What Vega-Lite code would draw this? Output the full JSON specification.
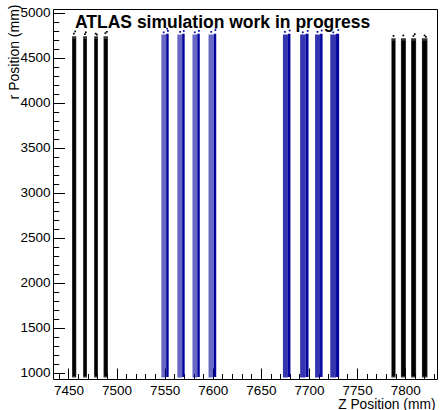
{
  "$schema": "https://vega.github.io/schema/vega-lite/v6.json",
  "width": 384,
  "height": 370,
  "autosize": {"type": "none"},
  "padding": {"left": 53, "top": 9, "right": 4, "bottom": 31},
  "background": "white",
  "config": {
    "view": {"stroke": "#000000", "strokeWidth": 1},
    "font": "Liberation Sans",
    "axis": {
      "grid": false,
      "domain": false,
      "tickColor": "#000000",
      "tickWidth": 1,
      "labelFont": "Liberation Sans",
      "labelFontSize": 13.5,
      "labelColor": "#000000",
      "labelFlush": false,
      "labelOverlap": false,
      "titleFont": "Liberation Sans",
      "titleFontWeight": "normal",
      "titleColor": "#000000"
    }
  },
  "title": {
    "text": "ATLAS simulation work in progress",
    "anchor": "start",
    "frame": "group",
    "orient": "top",
    "offset": -41,
    "dx": 22,
    "baseline": "alphabetic",
    "font": "Liberation Sans",
    "fontSize": 17.5,
    "fontWeight": "bold",
    "color": "#000000"
  },
  "datasets": {
    "bands": [
      {"band": "L1", "grp": "black", "part": "halo", "z0": 7453.8, "z1": 7458.2, "r0": 950, "r1": 4740},
      {"band": "L1", "grp": "black", "part": "core", "z0": 7454.5, "z1": 7457.5, "r0": 965, "r1": 4710},
      {"band": "L2", "grp": "black", "part": "halo", "z0": 7465.3, "z1": 7469.3, "r0": 950, "r1": 4740},
      {"band": "L2", "grp": "black", "part": "core", "z0": 7466.0, "z1": 7468.6, "r0": 965, "r1": 4710},
      {"band": "L3", "grp": "black", "part": "halo", "z0": 7476.7, "z1": 7480.7, "r0": 950, "r1": 4740},
      {"band": "L3", "grp": "black", "part": "core", "z0": 7477.4, "z1": 7480.0, "r0": 965, "r1": 4710},
      {"band": "L4", "grp": "black", "part": "halo", "z0": 7486.5, "z1": 7491.1, "r0": 950, "r1": 4740},
      {"band": "L4", "grp": "black", "part": "core", "z0": 7487.2, "z1": 7490.4, "r0": 965, "r1": 4710},
      {"band": "B1", "grp": "blue", "part": "sparse", "z0": 7546.6, "z1": 7551.6, "r0": 950, "r1": 4760},
      {"band": "B1", "grp": "blue", "part": "core", "z0": 7551.6, "z1": 7554.2, "r0": 955, "r1": 4770},
      {"band": "B2", "grp": "blue", "part": "sparse", "z0": 7563.2, "z1": 7568.2, "r0": 950, "r1": 4760},
      {"band": "B2", "grp": "blue", "part": "core", "z0": 7568.2, "z1": 7570.8, "r0": 955, "r1": 4770},
      {"band": "B3", "grp": "blue", "part": "sparse", "z0": 7578.9, "z1": 7583.9, "r0": 950, "r1": 4760},
      {"band": "B3", "grp": "blue", "part": "core", "z0": 7583.9, "z1": 7586.5, "r0": 955, "r1": 4770},
      {"band": "B4", "grp": "blue", "part": "sparse", "z0": 7595.6, "z1": 7601.0, "r0": 950, "r1": 4760},
      {"band": "B4", "grp": "blue", "part": "core", "z0": 7601.0, "z1": 7603.6, "r0": 955, "r1": 4770},
      {"band": "C1", "grp": "blue", "part": "halo", "z0": 7672.9, "z1": 7678.1, "r0": 950, "r1": 4760},
      {"band": "C1", "grp": "blue", "part": "core", "z0": 7678.1, "z1": 7680.7, "r0": 955, "r1": 4770},
      {"band": "C2", "grp": "blue", "part": "halo", "z0": 7690.8, "z1": 7696.4, "r0": 950, "r1": 4760},
      {"band": "C2", "grp": "blue", "part": "core", "z0": 7696.4, "z1": 7699.5, "r0": 955, "r1": 4770},
      {"band": "C3", "grp": "blue", "part": "halo", "z0": 7706.3, "z1": 7711.5, "r0": 950, "r1": 4760},
      {"band": "C3", "grp": "blue", "part": "core", "z0": 7711.5, "z1": 7714.1, "r0": 955, "r1": 4770},
      {"band": "C4", "grp": "blue", "part": "halo", "z0": 7722.1, "z1": 7728.1, "r0": 950, "r1": 4760},
      {"band": "C4", "grp": "blue", "part": "core", "z0": 7728.1, "z1": 7731.3, "r0": 955, "r1": 4770},
      {"band": "R1", "grp": "black", "part": "halo", "z0": 7785.6, "z1": 7790.0, "r0": 950, "r1": 4720},
      {"band": "R1", "grp": "black", "part": "core", "z0": 7786.3, "z1": 7789.3, "r0": 965, "r1": 4690},
      {"band": "R2", "grp": "black", "part": "halo", "z0": 7795.5, "z1": 7800.7, "r0": 950, "r1": 4720},
      {"band": "R2", "grp": "black", "part": "core", "z0": 7796.2, "z1": 7800.0, "r0": 965, "r1": 4690},
      {"band": "R3", "grp": "black", "part": "halo", "z0": 7806.1, "z1": 7811.3, "r0": 950, "r1": 4720},
      {"band": "R3", "grp": "black", "part": "core", "z0": 7806.8, "z1": 7810.6, "r0": 965, "r1": 4690},
      {"band": "R4", "grp": "black", "part": "halo", "z0": 7817.3, "z1": 7823.1, "r0": 950, "r1": 4720},
      {"band": "R4", "grp": "black", "part": "core", "z0": 7818.0, "z1": 7822.4, "r0": 965, "r1": 4690}
    ],
    "dots": [
      {"grp": "black", "z": 7455.6, "r": 4770},
      {"grp": "black", "z": 7457.1, "r": 4795},
      {"grp": "black", "z": 7467.2, "r": 4765},
      {"grp": "black", "z": 7468.1, "r": 4785},
      {"grp": "black", "z": 7478.3, "r": 4770},
      {"grp": "black", "z": 7479.6, "r": 4760},
      {"grp": "black", "z": 7488.4, "r": 4775},
      {"grp": "black", "z": 7489.9, "r": 4790},
      {"grp": "blue", "z": 7553.4, "r": 4800},
      {"grp": "blue", "z": 7552.6, "r": 4825},
      {"grp": "blue", "z": 7549.0, "r": 4785},
      {"grp": "blue", "z": 7569.9, "r": 4800},
      {"grp": "blue", "z": 7566.1, "r": 4790},
      {"grp": "blue", "z": 7585.6, "r": 4800},
      {"grp": "blue", "z": 7581.3, "r": 4785},
      {"grp": "blue", "z": 7602.7, "r": 4810},
      {"grp": "blue", "z": 7603.2, "r": 4835},
      {"grp": "blue", "z": 7598.4, "r": 4790},
      {"grp": "blue", "z": 7679.9, "r": 4805},
      {"grp": "blue", "z": 7675.0, "r": 4790},
      {"grp": "blue", "z": 7698.6, "r": 4800},
      {"grp": "blue", "z": 7693.5, "r": 4785},
      {"grp": "blue", "z": 7713.2, "r": 4805},
      {"grp": "blue", "z": 7708.8, "r": 4790},
      {"grp": "blue", "z": 7730.4, "r": 4810},
      {"grp": "blue", "z": 7725.2, "r": 4785},
      {"grp": "black", "z": 7787.8, "r": 4745},
      {"grp": "black", "z": 7798.0, "r": 4750},
      {"grp": "black", "z": 7808.6, "r": 4745},
      {"grp": "black", "z": 7809.9, "r": 4765},
      {"grp": "black", "z": 7820.1, "r": 4750},
      {"grp": "black", "z": 7821.5, "r": 4735}
    ]
  },
  "resolve": {"axis": {"x": "independent", "y": "independent"}},
  "layer": [
    {
      "data": {"name": "bands"},
      "mark": {"type": "rect", "strokeWidth": 0},
      "encoding": {
        "x": {
          "field": "z0",
          "type": "quantitative",
          "scale": {"domain": [7434, 7833], "nice": false, "zero": false},
          "axis": {
            "orient": "bottom",
            "title": "Z Position (mm)",
            "values": [7450, 7500, 7550, 7600, 7650, 7700, 7750, 7800],
            "format": "d",
            "tickSize": -11,
            "labelPadding": 15.5,
            "titleFontSize": 13.8,
            "titleAnchor": "end",
            "titleAlign": "right",
            "titleBaseline": "alphabetic",
            "titleX": 382,
            "titleY": 29
          }
        },
        "x2": {"field": "z1"},
        "y": {
          "field": "r0",
          "type": "quantitative",
          "scale": {"domain": [933, 5044], "nice": false, "zero": false},
          "axis": {
            "orient": "left",
            "title": "r Position (mm)",
            "values": [1000, 1500, 2000, 2500, 3000, 3500, 4000, 4500, 5000],
            "format": "d",
            "tickSize": -11.5,
            "labelPadding": 14.5,
            "titleFontSize": 14,
            "titleAnchor": "end",
            "titleAngle": -90,
            "titleAlign": "right",
            "titleBaseline": "alphabetic",
            "titleX": -35,
            "titleY": -5
          }
        },
        "y2": {"field": "r1"},
        "color": {
          "field": "grp",
          "type": "nominal",
          "scale": {"domain": ["black", "blue"], "range": ["#000000", "#02029c"]},
          "legend": null
        },
        "opacity": {
          "field": "part",
          "type": "nominal",
          "scale": {"domain": ["core", "halo", "sparse"], "range": [1, 0.6, 0.45]},
          "legend": null
        }
      }
    },
    {
      "data": {"name": "dots"},
      "mark": {"type": "square", "size": 3, "opacity": 1, "strokeWidth": 0},
      "encoding": {
        "x": {
          "field": "z",
          "type": "quantitative",
          "axis": {
            "orient": "bottom",
            "title": null,
            "values": [7440, 7460, 7470, 7480, 7490, 7510, 7520, 7530, 7540, 7560, 7570, 7580, 7590, 7610, 7620, 7630, 7640, 7660, 7670, 7680, 7690, 7710, 7720, 7730, 7740, 7760, 7770, 7780, 7790, 7810, 7820, 7830],
            "labels": false,
            "tickSize": -5.5
          }
        },
        "y": {
          "field": "r",
          "type": "quantitative",
          "axis": {
            "orient": "left",
            "title": null,
            "values": [1100, 1200, 1300, 1400, 1600, 1700, 1800, 1900, 2100, 2200, 2300, 2400, 2600, 2700, 2800, 2900, 3100, 3200, 3300, 3400, 3600, 3700, 3800, 3900, 4100, 4200, 4300, 4400, 4600, 4700, 4800, 4900],
            "labels": false,
            "tickSize": -5.75
          }
        },
        "color": {
          "field": "grp",
          "type": "nominal",
          "scale": {"domain": ["black", "blue"], "range": ["#000000", "#02029c"]},
          "legend": null
        }
      }
    }
  ]
}
